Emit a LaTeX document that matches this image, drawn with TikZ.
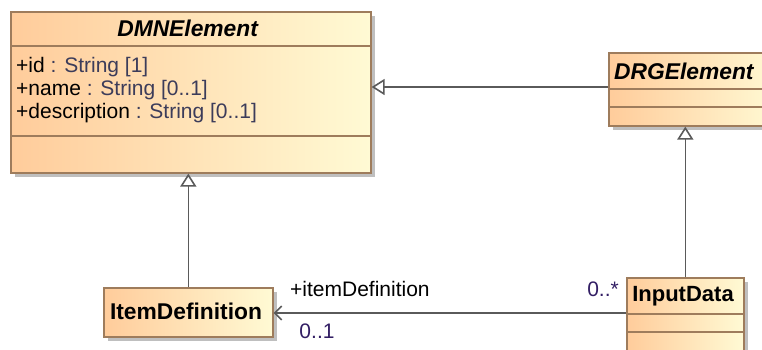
\documentclass[tikz,border=0pt]{standalone}
\usepackage{fontspec}
\setmainfont{Liberation Sans}
\usetikzlibrary{arrows.meta,shadows,calc}
\definecolor{umlL}{RGB}{255,204,155}
\definecolor{umlR}{RGB}{255,250,212}
\definecolor{umlB}{RGB}{158,124,92}
\definecolor{lineC}{RGB}{90,90,90}
\definecolor{typeC}{RGB}{60,60,90}
\definecolor{multC}{RGB}{50,30,100}
\begin{document}
\begin{tikzpicture}[x=1pt,y=-1pt,
  every node/.style={font=\fontsize{21}{25}\selectfont},
  bigfont/.style={font=\fontsize{22.8}{26}\selectfont\bfseries},
  umlbox/.style={draw=umlB,line width=1.6pt,left color=umlL,right color=umlR,
    inner sep=0pt,anchor=north west,
    drop shadow={shadow xshift=4pt,shadow yshift=-4pt,opacity=0.25,fill=black}},
  divider/.style={draw=umlB,line width=1.6pt},
  gen/.style={draw=lineC,line width=1.6pt,-{Triangle[open,length=13pt,width=16pt,fill=white]}},
  assoc/.style={draw=lineC,line width=1.6pt,-{Straight Barb[length=7pt,width=14pt]}},
  attr/.style={anchor=west,inner sep=0pt},
  mult/.style={inner sep=0pt,text=multC}]
\useasboundingbox (0,0) rectangle (762,349);
\clip (0,0) rectangle (762,349);
% boxes
\node[umlbox,minimum width=360pt,minimum height=161pt] (dmn) at (10,11) {};
\node[umlbox,minimum width=170pt,minimum height=73pt] (drg) at (608,52) {};
\node[umlbox,minimum width=169pt,minimum height=49pt] (item) at (103,287) {};
\node[umlbox,minimum width=117pt,minimum height=80pt] (input) at (626,277) {};
% dividers
\draw[divider] (10,46) -- (370,46);
\draw[divider] (10,136) -- (370,136);
\draw[divider] (608,89) -- (778,89);
\draw[divider] (608,107) -- (778,107);
\draw[divider] (626,314) -- (743,314);
\draw[divider] (626,332) -- (743,332);
% texts
\node[inner sep=0pt,bigfont] (dmnt) at (188,28) {\textit{DMNElement}};
\node[attr] (a1) at (16,67) {+id \textcolor{typeC}{: String [1]}};
\node[attr] (a2) at (16,90) {+name \textcolor{typeC}{: String [0..1]}};
\node[attr] (a3) at (16,113) {+description \textcolor{typeC}{: String [0..1]}};
\node[attr,bigfont] (drgt) at (614,71) {\textit{DRGElement}};
\node[inner sep=0pt,bigfont] (itemt) at (186,311) {ItemDefinition};
\node[inner sep=0pt,bigfont,font=\fontsize{22}{26}\selectfont\bfseries] (inputt) at (683,296) {InputData};
% connectors
\draw[gen] (drg.west |- 0,87) -- (dmn.east |- 0,87);
\draw[gen] (input.north) -- (input.north |- drg.south);
\draw[gen] (item.north) -- (item.north |- dmn.south);
\draw[assoc] (input.west |- 0,313) -- (item.east |- 0,313);
% labels
\node[attr] (role) at (290,289) {+itemDefinition};
\node[mult] (m1) at (317,331) {0..1};
\node[mult,anchor=east] (m2) at (619,289) {0..*};
\end{tikzpicture}
\end{document}
